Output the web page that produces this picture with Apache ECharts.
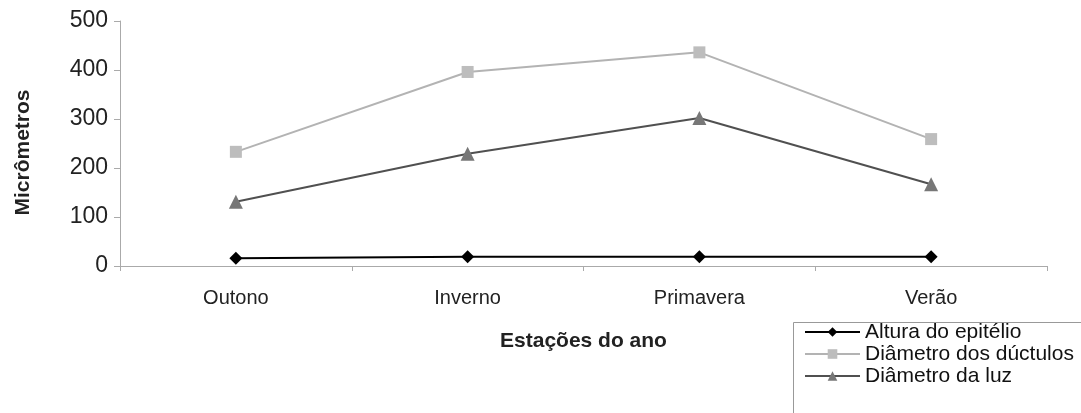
<!DOCTYPE html>
<html>
<head>
<meta charset="utf-8">
<script src="https://cdn.jsdelivr.net/npm/echarts@6/dist/echarts.min.js"></script>
<style>
  html, body { margin: 0; padding: 0; background: #fff; }
  #chart { width: 1081px; height: 413px; }
</style>
</head>
<body>
<div id="chart"></div>
<script>
const seasons = ["Outono", "Inverno", "Primavera", "Verão"];
const alturaEpitelio = [16, 19, 19, 19];
const diametroDuctulos = [233, 396, 436, 259];
const diametroLuz = [131, 229, 302, 167];

const chart = echarts.init(document.getElementById("chart"));
const font = "Liberation Sans, Arial, sans-serif";

chart.setOption({
  backgroundColor: "#fff",
  animation: false,
  grid: { left: 120, right: 34, top: 21, bottom: 147 },
  // legend frame runs off the right and bottom edges, like the original
  graphic: [{
    type: "rect",
    left: 791,
    top: 320,
    shape: { width: 400, height: 200 },
    style: { fill: "none", stroke: "#999", lineWidth: 1 },
    silent: true
  }],
  legend: {
    orient: "vertical",
    left: 792,
    top: 321,
    itemWidth: 55,
    itemHeight: 12,
    itemGap: 0,
    padding: [0, 2, 2, 12],
    textStyle: { fontFamily: font, fontSize: 21, lineHeight: 22, color: "#111" },
    data: ["Altura do epitélio", "Diâmetro dos dúctulos", "Diâmetro da luz"]
  },
  xAxis: {
    type: "category",
    data: seasons,
    boundaryGap: true,
    name: "Estações do ano",
    nameLocation: "middle",
    nameGap: 65,
    nameTextStyle: { fontFamily: font, fontSize: 21, fontWeight: "bold", color: "#222" },
    axisLine: { lineStyle: { color: "#aaa" } },
    axisTick: { show: true, length: 5, lineStyle: { color: "#aaa" } },
    axisLabel: { fontFamily: font, fontSize: 20, color: "#222", margin: 22 },
    splitLine: { show: false }
  },
  yAxis: {
    type: "value",
    min: 0,
    max: 500,
    interval: 100,
    name: "Micrômetros",
    nameLocation: "middle",
    nameGap: 86,
    nameTextStyle: { fontFamily: font, fontSize: 21, fontWeight: "bold", color: "#222", padding: [0, 18, 0, 0] },
    axisLine: { show: true, lineStyle: { color: "#aaa" } },
    axisTick: { show: true, length: 6, lineStyle: { color: "#aaa" } },
    axisLabel: { fontFamily: font, fontSize: 23, color: "#222", margin: 12 },
    splitLine: { show: false }
  },
  series: [
    {
      name: "Altura do epitélio",
      type: "line",
      data: alturaEpitelio,
      symbol: "diamond",
      symbolSize: 13,
      itemStyle: { color: "#000" },
      lineStyle: { color: "#000", width: 2 }
    },
    {
      name: "Diâmetro dos dúctulos",
      type: "line",
      data: diametroDuctulos,
      symbol: "rect",
      symbolSize: 12,
      itemStyle: { color: "#bdbdbd" },
      lineStyle: { color: "#b3b3b3", width: 2 }
    },
    {
      name: "Diâmetro da luz",
      type: "line",
      data: diametroLuz,
      symbol: "triangle",
      symbolSize: 14,
      itemStyle: { color: "#777" },
      lineStyle: { color: "#505050", width: 2 }
    }
  ]
});
</script>
</body>
</html>
